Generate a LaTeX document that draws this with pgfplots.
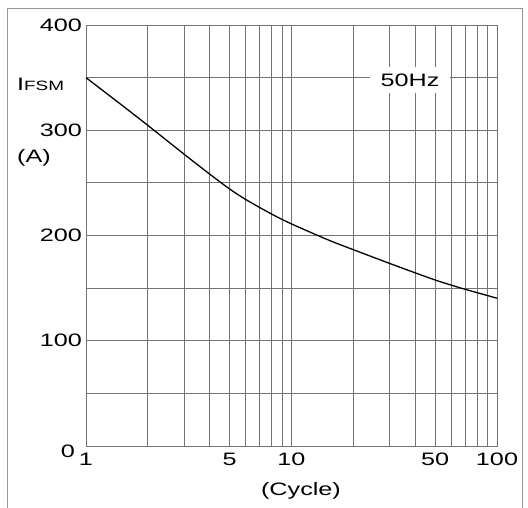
\documentclass[border=0pt]{standalone}
\usepackage{pgfplots}
\pgfplotsset{compat=1.18}
\usepackage{fontspec}
\setmainfont{Liberation Sans}[FakeStretch=1.4]
\definecolor{gridc}{RGB}{115,115,115}
\definecolor{framec}{RGB}{150,150,150}
\newcommand{\lbl}{\fontsize{18bp}{20bp}\selectfont}
\begin{document}
\begin{tikzpicture}
\path[use as bounding box] (-86bp,-62bp) rectangle (442bp,446bp);
\fill[white] (-86bp,-62bp) rectangle (442bp,446bp);
\draw[framec, line width=0.8bp] (-79bp,-70bp) -- (-79bp,438bp) -- (436bp,438bp) -- (436bp,-70bp);
\begin{axis}[
  at={(0,0)}, anchor=south west,
  scale only axis,
  width=411bp, height=421bp,
  xmode=log,
  xmin=1, xmax=100, ymin=0, ymax=400,
  xtick={1,5,10,50,100},
  xticklabels={1,5,10,50,100},
  minor xtick={2,3,4,6,7,8,9,20,30,40,60,70,80,90},
  ytick={0,100,200,300,400},
  yticklabels={{},100,200,300,400},
  minor ytick={50,150,250,350},
  grid=both,
  major grid style={gridc, line width=0.9bp},
  minor grid style={gridc, line width=0.9bp},
  axis line style={gridc, line width=0.9bp},
  major tick length=0pt, minor tick length=0pt,
  tick style={draw=none},
  yticklabel style={font=\lbl, inner sep=0pt, xshift=-4bp},
  xticklabel style={font=\lbl, inner sep=0pt, yshift=-7bp},
  clip=true,
]
\addplot[black, line width=1.3bp, smooth] coordinates {
(1,350) (1.5,323.6) (2,304.6) (3,277.3) (4,258.3) (5,244.2) (6,234.1) (8,220.4) (10,211)
(15,196) (20,186.5) (30,173.5) (40,164.5) (50,157.7) (60,152.8) (70,148.9) (100,140.4)
};
\end{axis}
\node[anchor=east, inner sep=0pt, font=\lbl] at (-11bp,-5bp) {0};
\node[anchor=base west, inner sep=0pt, font=\lbl] at (-69bp,355bp) {I{\fontsize{13.5bp}{15bp}\selectfont FSM}};
\node[anchor=base west, inner sep=0pt, font=\lbl] at (-69bp,283bp) {(A)};
\node[fill=white, inner xsep=11bp, inner ysep=7bp, font=\lbl] at (324bp,366bp) {50Hz};
\node[font=\lbl, inner sep=0pt] at (215bp,-45bp) {(Cycle)};
\end{tikzpicture}
\end{document}
